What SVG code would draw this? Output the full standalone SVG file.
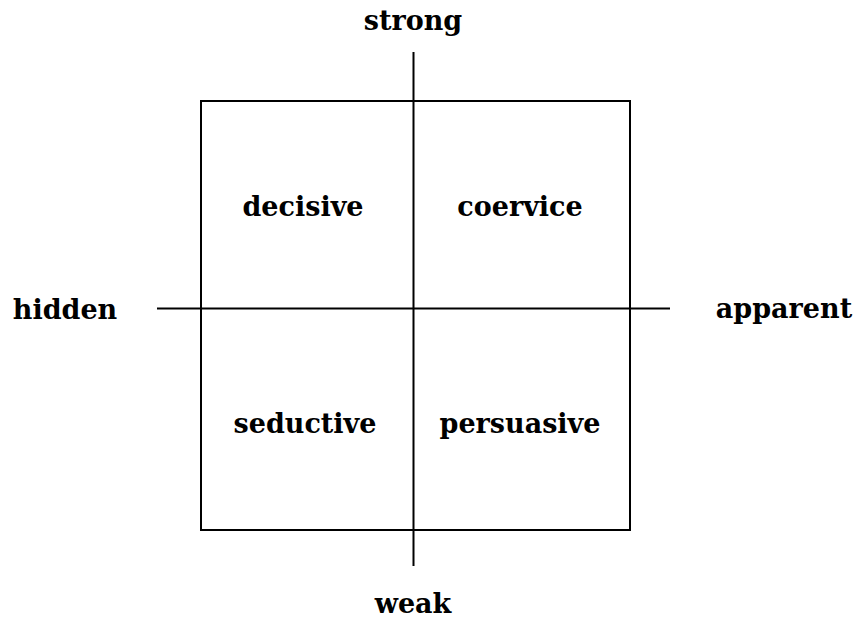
<svg xmlns="http://www.w3.org/2000/svg" width="857" height="619" viewBox="0 0 857 619">
<style>
text{font-family:"DejaVu Serif","Liberation Serif",serif;font-weight:bold;font-size:27px;fill:#000;text-anchor:middle}
.ln{stroke:#000;stroke-width:2;fill:none}
</style>
<rect width="857" height="619" fill="#fff"/>
<g id="frame"><rect class="ln" x="201" y="101" width="429" height="429"/></g>
<g id="connectors">
<line class="ln" x1="413.5" y1="52" x2="413.5" y2="566"/>
<line class="ln" x1="157" y1="308.5" x2="670" y2="308.5"/>
</g>
<g id="strong"><text x="413" y="30">strong</text></g>
<g id="weak"><text x="413" y="613">weak</text></g>
<g id="hidden"><text x="65" y="319">hidden</text></g>
<g id="apparent"><text x="784" y="318">apparent</text></g>
<g id="decisive"><text x="303" y="216">decisive</text></g>
<g id="coervice"><text x="520" y="216">coervice</text></g>
<g id="seductive"><text x="305" y="433">seductive</text></g>
<g id="persuasive"><text x="520" y="433">persuasive</text></g>
</svg>
